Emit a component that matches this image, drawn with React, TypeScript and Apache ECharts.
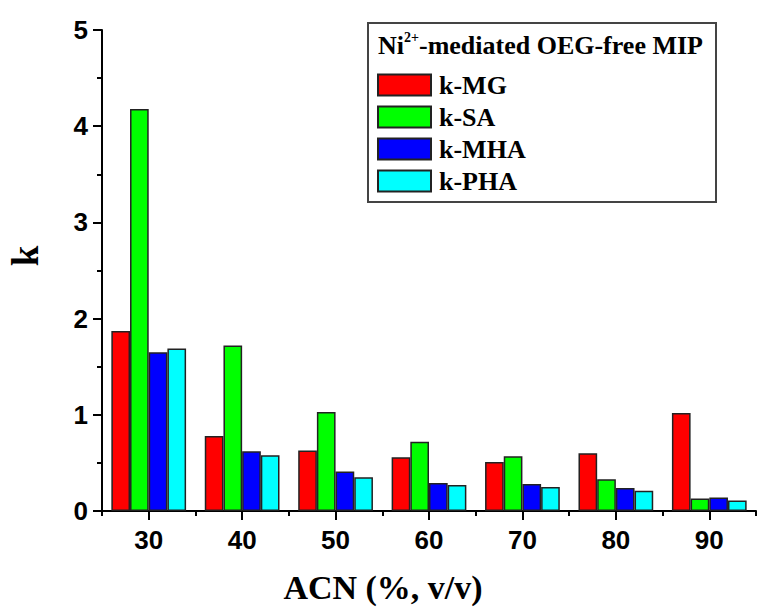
import React, { useEffect, useRef } from "react";
import * as echarts from "echarts";

const categories = ["30", "40", "50", "60", "70", "80", "90"];
const seriesNames = ["k-MG", "k-SA", "k-MHA", "k-PHA"];
const kMG = [1.87, 0.78, 0.63, 0.56, 0.51, 0.6, 1.02];
const kSA = [4.18, 1.72, 1.03, 0.72, 0.57, 0.33, 0.13];
const kMHA = [1.65, 0.62, 0.41, 0.29, 0.28, 0.24, 0.14];
const kPHA = [1.69, 0.58, 0.35, 0.27, 0.25, 0.21, 0.11];
const seriesValues = [kMG, kSA, kMHA, kPHA];
const colors = ["#ff0000", "#00ff00", "#0000ff", "#00ffff"];

export default function App() {
  const ref = useRef<HTMLDivElement>(null);
  useEffect(() => {
    if (!ref.current) return;
    const chart = echarts.init(ref.current, null, { renderer: "svg" });
    const sans = "Liberation Sans";
    const serif = "Liberation Serif";
    chart.setOption({
      animation: false,
      backgroundColor: "#ffffff",
      grid: { left: 102, right: 1, top: 30, bottom: 97, containLabel: false },
      xAxis: [
        {
          type: "category",
          data: categories,
          axisLine: { show: true, lineStyle: { color: "#000", width: 2 } },
          axisTick: { show: true, alignWithLabel: true, length: 9, lineStyle: { color: "#000", width: 2 } },
          axisLabel: { color: "#000", fontFamily: sans, fontWeight: "bold", fontSize: 26, margin: 16 },
        },
        {
          type: "category",
          data: categories,
          position: "bottom",
          axisLine: { show: false },
          axisTick: { show: true, alignWithLabel: false, length: 5, lineStyle: { color: "#000", width: 2 } },
          axisLabel: { show: false },
        },
      ],
      yAxis: {
        type: "value",
        min: 0,
        max: 5,
        interval: 1,
        axisLine: { show: true, lineStyle: { color: "#000", width: 2 } },
        axisTick: { show: true, length: 9, lineStyle: { color: "#000", width: 2 } },
        minorTick: { show: true, splitNumber: 2, length: 5, lineStyle: { color: "#000", width: 2 } },
        splitLine: { show: false },
        axisLabel: { color: "#000", fontFamily: sans, fontWeight: "bold", fontSize: 26, margin: 14 },
      },
      legend: {
        orient: "vertical",
        left: 377,
        top: 72,
        padding: 0,
        itemWidth: 53,
        itemHeight: 21,
        itemGap: 6,
        icon: "rect",
        data: seriesNames,
        textStyle: { color: "#000", fontFamily: serif, fontWeight: "bold", fontSize: 26, padding: [0, 0, 0, 3] },
      },
      graphic: [
        {
          type: "rect",
          shape: { x: 368, y: 23, width: 348, height: 179 },
          style: { fill: "none", stroke: "#444", lineWidth: 2 },
          z: 10,
        },
        {
          type: "text",
          x: 378,
          y: 30,
          style: {
            text: "{a|Ni}{s|2+}{a|-mediated OEG-free MIP}",
            rich: {
              a: { fill: "#000", fontFamily: serif, fontWeight: "bold", fontSize: 26, lineHeight: 28, verticalAlign: "bottom" },
              s: { fill: "#000", fontFamily: serif, fontWeight: "bold", fontSize: 14, lineHeight: 14, verticalAlign: "top" },
            },
          },
          z: 10,
        },
        {
          type: "text",
          x: 25,
          y: 256,
          rotation: Math.PI / 2,
          style: { text: "k", fill: "#000", fontFamily: serif, fontWeight: "bold", fontSize: 37, align: "center", verticalAlign: "middle" },
        },
        {
          type: "text",
          x: 383,
          y: 587,
          style: { text: "ACN (%, v/v)", fill: "#000", fontFamily: serif, fontWeight: "bold", fontSize: 34, align: "center", verticalAlign: "middle" },
        },
      ],
      series: seriesNames.map((name, i) => ({
        name,
        type: "bar",
        data: seriesValues[i],
        barGap: "0%",
        barCategoryGap: "20%",
        itemStyle: { color: colors[i], borderColor: "#222", borderWidth: 1.5 },
      })),
    });
    return () => chart.dispose();
  }, []);
  return <div ref={ref} style={{ position: "fixed", left: 0, top: 0, width: 757, height: 608 }} />;
}
